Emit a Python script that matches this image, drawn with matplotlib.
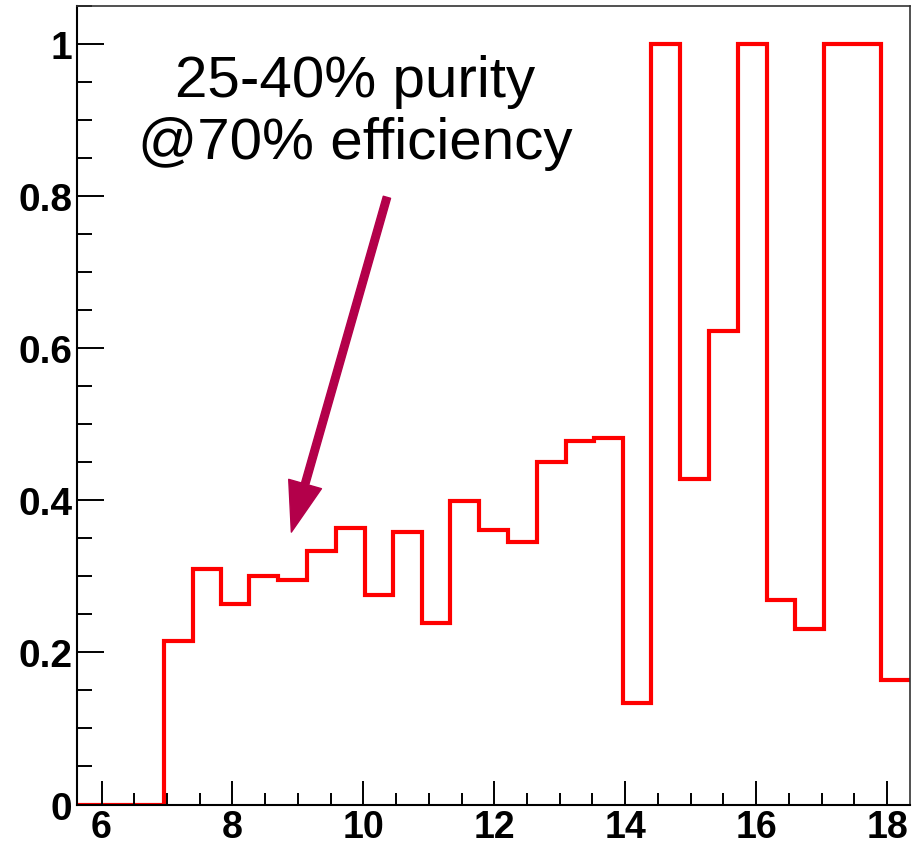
import matplotlib
matplotlib.use("Agg")
import matplotlib.pyplot as plt
from matplotlib.ticker import MultipleLocator, FuncFormatter

# Bin edges of the histogram (x axis)
bin_edges = [5.63, 6.07, 6.51, 6.95, 7.39, 7.82, 8.26, 8.70, 9.14, 9.58,
             10.02, 10.45, 10.89, 11.33, 11.77, 12.21, 12.65, 13.09, 13.52,
             13.96, 14.40, 14.84, 15.28, 15.72, 16.16, 16.60, 17.03, 17.47,
             17.91, 18.35]
# Purity per bin
purity = [0.0, 0.0, 0.0, 0.215, 0.310, 0.263, 0.300, 0.295, 0.333, 0.364,
          0.275, 0.358, 0.238, 0.399, 0.361, 0.345, 0.450, 0.478, 0.482,
          0.133, 1.0, 0.428, 0.622, 1.0, 0.269, 0.231, 1.0, 1.0, 0.164]

annot_lines = ["25-40% purity", "@70% efficiency"]

plt.rcParams['font.family'] = ['Liberation Sans', 'DejaVu Sans']

fig = plt.figure(figsize=(9.16, 8.45), dpi=100)
ax = fig.add_axes([0.0844, 0.0467, 0.909, 0.9456])

ax.stairs(purity, bin_edges, baseline=None, color='#ff0000', lw=3.0)

ax.set_xlim(bin_edges[0], bin_edges[-1])
ax.set_ylim(0, 1.05)

ax.xaxis.set_major_locator(MultipleLocator(2))
ax.xaxis.set_minor_locator(MultipleLocator(0.5))
ax.yaxis.set_major_locator(MultipleLocator(0.2))
ax.yaxis.set_minor_locator(MultipleLocator(0.05))
ax.yaxis.set_major_formatter(FuncFormatter(lambda v, p: '%g' % round(v, 3)))
ax.xaxis.set_major_formatter(FuncFormatter(lambda v, p: '%g' % v))

ax.tick_params(axis='both', which='both', direction='in', top=False, right=False,
               width=1.4, colors='black')
ax.tick_params(axis='y', which='major', length=19.5, pad=3.5)
ax.tick_params(axis='y', which='minor', length=10.8)
ax.tick_params(axis='x', which='major', length=17.3, pad=3)
ax.tick_params(axis='x', which='minor', length=8.6)
for lab in ax.get_yticklabels():
    lab.set_fontsize(28)
    lab.set_fontweight('bold')
for lab in ax.get_xticklabels():
    lab.set_fontsize(27)
    lab.set_fontweight('bold')

for side in ['left', 'bottom']:
    ax.spines[side].set_linewidth(1.5)
    ax.spines[side].set_color('black')
for side in ['top', 'right']:
    ax.spines[side].set_linewidth(1.2)
    ax.spines[side].set_color('#333333')

# Annotation text
ax.text(9.87, 0.931, annot_lines[0], fontsize=42, ha='center', va='baseline', color='black')
ax.text(9.87, 0.850, annot_lines[1], fontsize=42, ha='center', va='baseline', color='black')

# Arrow
ax.annotate('', xy=(8.90, 0.358), xytext=(10.36, 0.798),
            arrowprops=dict(facecolor='#b3004a', edgecolor='#b3004a', width=5.4,
                            headwidth=24.5, headlength=36, shrink=0.0))

fig.savefig('out.png', dpi=100)
